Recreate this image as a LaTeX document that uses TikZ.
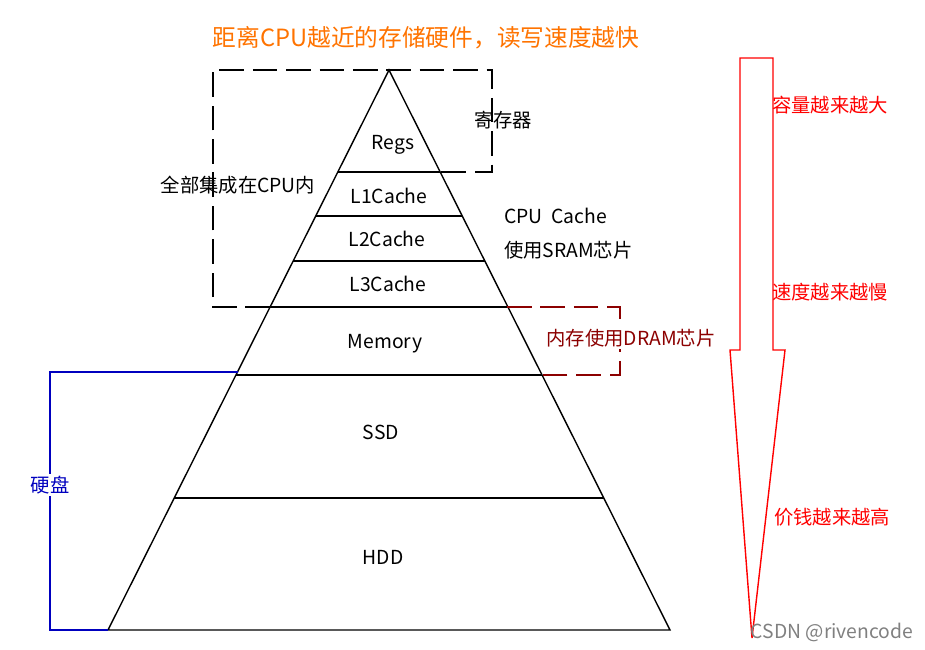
\documentclass[tikz,border=0pt]{standalone}
\usepackage{fontspec}
\setmainfont{Noto Sans CJK SC}
\begin{document}
\begin{tikzpicture}[x=0.02cm,y=-0.02cm,
	lbl/.style={font=\fontsize{11}{13}\selectfont,inner sep=1pt},
	dsh/.style={thick,dash pattern=on 14pt off 5pt}]

	\useasboundingbox (0,0) rectangle (925,649);

	% pyramid
	\draw[thick] (389,70) -- (108,630) -- (670,630) -- cycle;
	\foreach \y in {172,216,261,307,375,498} {
		\draw[thick] ({389-281/560*(\y-70)},\y) -- ({389+281/560*(\y-70)},\y);
	}

	\node[lbl] at (393,145) (regs) {Regs};
	\node[lbl] at (389,196) (l1) {L1Cache};
	\node[lbl] at (387,239) (l2) {L2Cache};
	\node[lbl] at (388,284) (l3) {L3Cache};
	\node[lbl] at (385,344) (mem) {Memory};
	\node[lbl] at (381,432) (ssd) {SSD};
	\node[lbl] at (383,557) (hdd) {HDD};

	% brackets
	\draw[dsh] (270,307) -- (213,307) -- (213,70) -- (492,70) -- (492,172) -- (440,172);
	\draw[dsh,red!55!black] (507,307) -- (620,307) -- (620,375) -- (543,375);
	\draw[thick,blue!75!black] (238,372) -- (50,372) -- (50,630) -- (108,630);

	\node[lbl] at (503,120) (reg) {寄存器};
	\node[lbl] at (238,185) (cpu) {全部集成在CPU内};
	\node[lbl,anchor=west] at (502,216) (cc) {CPU\ \ Cache};
	\node[lbl,anchor=west] at (502,250) (sram) {使用SRAM芯片};
	\node[lbl,fill=white,text=red!55!black] at (631,338) (dram) {内存使用DRAM芯片};
	\node[lbl,fill=white,text=blue!75!black] at (50,485) (disk) {硬盘};

	\node[font=\fontsize{13.5}{15}\selectfont,text=orange!90!red] at (426,38) (title) {距离CPU越近的存储硬件，读写速度越快};

	% arrow
	\draw[red,thick] (740,58) -- (773,58) -- (773,350) -- (785,350) -- (752,638) -- (730,350) -- (740,350) -- cycle;

	\node[lbl,text=red] at (830,105) (cap) {容量越来越大};
	\node[lbl,text=red] at (830,292) (spd) {速度越来越慢};
	\node[lbl,text=red] at (832,517) (pri) {价钱越来越高};
	\node[lbl,text=gray] at (832,632) (mark) {CSDN @rivencode};
\end{tikzpicture}
\end{document}
